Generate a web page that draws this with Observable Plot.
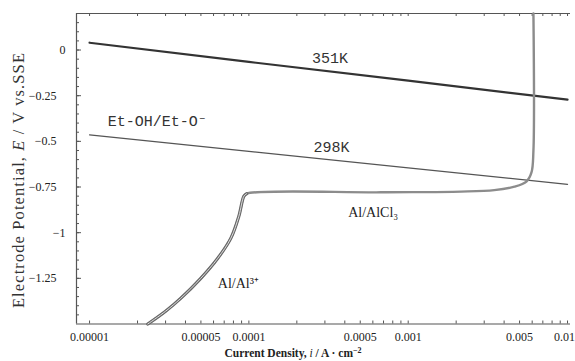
<!DOCTYPE html>
<html>
<head>
<meta charset="utf-8">
<script src="https://cdn.jsdelivr.net/npm/d3@7"></script>
<script src="https://cdn.jsdelivr.net/npm/@observablehq/plot@0.6"></script>
<style>
  html, body { margin: 0; padding: 0; background: #fff; }
  #chart { width: 575px; height: 361px; overflow: hidden; }
</style>
</head>
<body>
<div id="chart"></div>
<script>
// ---- data ----
const xDomain = [8.28e-6, 0.01044];
const yDomain = [-1.5, 0.2];

// 351K line (Et-OH/Et-O- at 351 K)
const line351I = [1e-5, 1e-4, 1e-3, 1e-2];
const line351E = [0.04, -0.065, -0.168, -0.272];

// 298K line (Et-OH/Et-O- at 298 K)
const line298I = [1e-5, 1e-4, 1e-3, 1e-2];
const line298E = [-0.464, -0.555, -0.645, -0.735];

// Al polarization curve
const alI = [2.32e-5, 3.0e-5, 3.73e-5, 4.99e-5, 6.38e-5, 7.71e-5, 8.65e-5, 9.31e-5, 9.7e-5,
             6.76e-4, 2.15e-3, 3.47e-3, 4.65e-3, 5.52e-3, 5.94e-3, 6.11e-3, 6.11e-3];
const alE = [-1.50, -1.43, -1.36, -1.25, -1.14, -1.03, -0.91, -0.80, -0.786,
             -0.779, -0.775, -0.767, -0.748, -0.72, -0.67, -0.55, 0.2];
const alRisingCount = 9;

// tick values and labels
const xLabelValues = [1e-5, 5e-5, 1e-4, 5e-4, 1e-3, 5e-3, 1e-2];
const xLabelTexts = ["0.00001", "0.00005", "0.0001", "0.0005", "0.001", "0.005", "0.01"];
const xMinorTicks = [1e-5,2e-5,3e-5,4e-5,5e-5,6e-5,7e-5,8e-5,9e-5,
                     1e-4,2e-4,3e-4,4e-4,5e-4,6e-4,7e-4,8e-4,9e-4,
                     1e-3,2e-3,3e-3,4e-3,5e-3,6e-3,7e-3,8e-3,9e-3,1e-2];
const yIntLabels = [0, -1];
const yDecLabels = [-0.25, -0.5, -0.75, -1.25];
const yMajorTicks = [0, -0.25, -0.5, -0.75, -1, -1.25];
const yMinorTicks = [0.15,0.1,0.05,0,-0.05,-0.1,-0.15,-0.2,-0.25,-0.3,-0.35,-0.4,-0.45,-0.5,-0.55,-0.6,-0.65,-0.7,-0.75,
                     -0.8,-0.85,-0.9,-0.95,-1,-1.05,-1.1,-1.15,-1.2,-1.25,-1.3,-1.35,-1.4,-1.45];

// annotations
const tempText = ["351K", "298K"];
const tempI = [3.23e-4, 3.3e-4];
const tempE = [-0.042, -0.53];
const coupleText = ["Et-OH/Et-O\u207B"];
const coupleI = [1.30e-5];
const coupleE = [-0.392];
const alAnnoText = ["Al/AlCl\u2083", "Al/Al\u00B3\u207A"];
const alAnnoI = [4.2e-4, 6.38e-5];
const alAnnoE = [-0.89, -1.28];

// ---- build tables ----
const l351 = line351I.map((d, k) => ({i: d, E: line351E[k]}));
const l298 = line298I.map((d, k) => ({i: d, E: line298E[k]}));
const al = alI.map((d, k) => ({i: d, E: alE[k]}));
const alRise = al.slice(0, alRisingCount);
const temps = tempText.map((t, k) => ({t, i: tempI[k], E: tempE[k]}));
const couple = coupleText.map((t, k) => ({t, i: coupleI[k], E: coupleE[k]}));
const alAnno = alAnnoText.map((t, k) => ({t, i: alAnnoI[k], E: alAnnoE[k]}));
const xLabels = xLabelValues.map((v, k) => ({v, t: xLabelTexts[k], last: k === xLabelValues.length - 1}));
const fmtY = d => (d < 0 ? "\u2212" : "") + String(Math.abs(d));

const W = 575, H = 361, mT = 13, mB = 37.5, mL = 76, mR = 5;
const plotH = H - mT - mB, plotW = W - mL - mR;
const axisColor = "#555";
const monoFont = "'Liberation Mono', monospace";
const serifFont = "'Liberation Serif', serif";

const chart = Plot.plot({
  width: W, height: H,
  marginTop: mT, marginBottom: mB, marginLeft: mL, marginRight: mR,
  style: {background: "#fff", fontFamily: serifFont, fontSize: "12px", color: "#222"},
  x: {type: "log", domain: xDomain, axis: null},
  y: {domain: yDomain, axis: null},
  marks: [
    // frame lines: left, top, bottom
    Plot.ruleX([xDomain[0]], {stroke: axisColor, strokeWidth: 1.2}),
    Plot.ruleY([yDomain[1]], {stroke: axisColor, strokeWidth: 1.2}),
    Plot.ruleY([yDomain[0]], {stroke: axisColor, strokeWidth: 1.2}),
    // inward ticks, bottom and top
    Plot.ruleX(xMinorTicks, {x: d => d, insetTop: plotH - 3, stroke: axisColor}),
    Plot.ruleX(xMinorTicks, {x: d => d, insetBottom: plotH - 3, stroke: axisColor}),
    // inward ticks, left
    Plot.ruleY(yMinorTicks, {y: d => d, insetRight: plotW - 3, stroke: axisColor}),
    Plot.ruleY(yMajorTicks, {y: d => d, insetRight: plotW - 5, stroke: axisColor}),
    // x tick labels
    Plot.text(xLabels.filter(d => !d.last), {x: "v", text: "t", frameAnchor: "bottom", lineAnchor: "top", dy: 8, fontSize: 12, fill: "#222"}),
    Plot.text(xLabels.filter(d => d.last), {x: "v", text: "t", frameAnchor: "bottom", lineAnchor: "top", dy: 8, dx: -3, fontSize: 12, fill: "#222"}),
    // y tick labels
    Plot.axisY(yIntLabels, {anchor: "left", tickSize: 0, tickPadding: 11, tickFormat: fmtY, label: null, fontSize: 12}),
    Plot.axisY(yDecLabels, {anchor: "left", tickSize: 0, tickPadding: 20, tickFormat: fmtY, label: null, fontSize: 12}),
    // data lines
    Plot.line(l351, {x: "i", y: "E", stroke: "#333", strokeWidth: 2.2}),
    Plot.line(l298, {x: "i", y: "E", stroke: "#555", strokeWidth: 1.3}),
    Plot.line(al, {x: "i", y: "E", stroke: "#8c8c8c", strokeWidth: 2.4, curve: "catmull-rom"}),
    Plot.line(alRise, {x: "i", y: "E", stroke: "#6a6a6a", strokeWidth: 3.2, curve: "catmull-rom"}),
    Plot.line(alRise, {x: "i", y: "E", stroke: "#dcdcdc", strokeWidth: 1, curve: "catmull-rom"}),
    // annotations
    Plot.text(temps, {x: "i", y: "E", text: "t", textAnchor: "middle", fontFamily: monoFont, fontSize: 15, fill: "#333"}),
    Plot.text(couple, {x: "i", y: "E", text: "t", textAnchor: "start", fontFamily: monoFont, fontSize: 15, fill: "#333"}),
    Plot.text(alAnno, {x: "i", y: "E", text: "t", textAnchor: "start", fontFamily: serifFont, fontSize: 14, fill: "#222"})
  ]
});

// axis titles (added as real SVG text with rich formatting)
const svg = d3.select(chart);
const yt = svg.append("text")
  .attr("transform", "translate(24,180) rotate(-90)")
  .attr("text-anchor", "middle")
  .attr("font-family", serifFont)
  .attr("font-size", 16.5)
  .attr("letter-spacing", "1.1px")
  .attr("fill", "#333");
yt.append("tspan").text("Electrode Potential, ");
yt.append("tspan").attr("font-style", "italic").text("E");
yt.append("tspan").text(" / V vs.SSE");

const xt = svg.append("text")
  .attr("x", 293)
  .attr("y", H - 4)
  .attr("text-anchor", "middle")
  .attr("font-family", serifFont)
  .attr("font-size", 11.5)
  .attr("font-weight", "bold")
  .attr("fill", "#222");
xt.append("tspan").text("Current Density, ");
xt.append("tspan").attr("font-style", "italic").attr("font-weight", "normal").text("i");
xt.append("tspan").text(" / A \u00B7 cm");
xt.append("tspan").attr("dy", -4).attr("font-size", 8).text("\u22122");

document.getElementById("chart").appendChild(chart);
</script>
</body>
</html>
